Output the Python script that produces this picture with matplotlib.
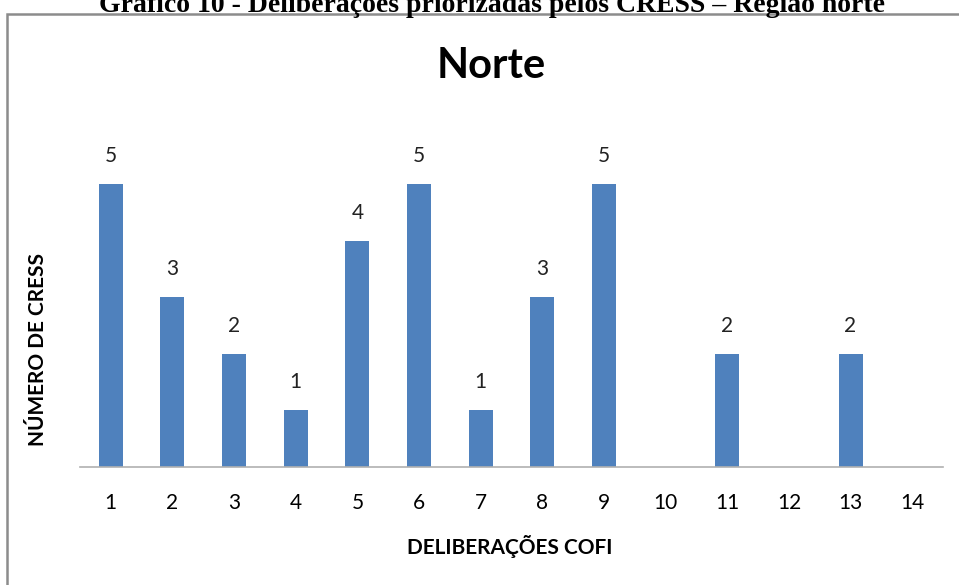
import matplotlib
matplotlib.use("Agg")
import matplotlib.pyplot as plt
from matplotlib.patches import Rectangle

categories = [str(i) for i in range(1, 15)]
values = [5, 3, 2, 1, 4, 5, 1, 3, 5, 0, 2, 0, 2, 0]
title = "Norte"
caption = "Gráfico 10 - Deliberações priorizadas pelos CRESS – Região norte"
xlabel = "DELIBERAÇÕES COFI"
ylabel = "NÚMERO DE CRESS"

fig = plt.figure(figsize=(9.59, 5.85), dpi=100)
fig.patch.set_facecolor("white")

# outer chart border
fig.patches.append(Rectangle((7/959, -0.05), 1.2, 1 - 14/585 + 0.05, transform=fig.transFigure,
                             fill=False, edgecolor="#8c8c8c", linewidth=1.8))

# caption cut off at the top
fig.text(492/959, 1 - 12/585, caption, ha="center", va="baseline",
         family="Liberation Serif", fontweight="bold", fontsize=20)

ax = fig.add_axes([80/959, 1 - 467/585, (943 - 80)/959, (467 - 127.4)/585])
x = list(range(len(categories)))
bars = ax.bar(x, values, width=0.39, color="#4F81BD")
for xi, v in zip(x, values):
    if v > 0:
        ax.annotate(str(v), (xi, v), xytext=(0, 13), textcoords="offset points",
                    ha="center", va="bottom", family="Lato", fontsize=15, color="#222222")

ax.set_xlim(-0.5, len(categories) - 0.5)
ax.set_ylim(0, 6)
ax.set_xticks(x)
ax.set_xticklabels(categories, family="Lato", fontsize=15)
ax.tick_params(axis="x", length=0, pad=19)
ax.set_yticks([])
for s in ["top", "right", "left"]:
    ax.spines[s].set_visible(False)
ax.spines["bottom"].set_color("#b0b0b0")
ax.spines["bottom"].set_linewidth(1.2)

fig.text(510/959, 1 - 547/585, xlabel, ha="center", va="center",
         family="Lato", fontweight="bold", fontsize=15)
fig.text(38/959, 1 - 350/585, ylabel, ha="center", va="center", rotation=90,
         family="Lato", fontweight="bold", fontsize=15)
fig.text(491/959, 1 - 66/585, title, ha="center", va="center",
         family="Lato", fontweight="bold", fontsize=30)

fig.savefig("out.png", dpi=100)
